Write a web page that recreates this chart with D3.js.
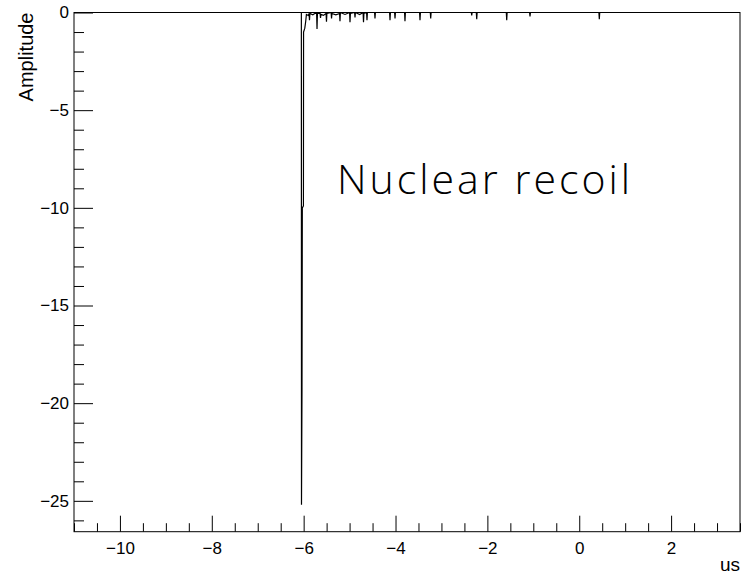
<!doctype html>
<html lang="en">
	<head>
		<meta charset="UTF-8" />
		<title>Nuclear recoil</title>
		<script src="https://d3js.org/d3.v7.min.js"></script>
		<style>
			body {
				margin: 0;
				background: #fff;
			}
			svg {
				display: block;
			}
			.axis text {
				font-family: 'Liberation Sans', Arial, sans-serif;
				font-size: 17px;
				fill: #000;
			}
			.axis line {
				stroke: #000;
			}
			.title {
				font-family: 'Liberation Sans', Arial, sans-serif;
				font-size: 19px;
			}
			.wave {
				fill: none;
				stroke: #000;
				stroke-width: 1.2px;
			}
		</style>
	</head>
	<body>
		<svg width="745" height="576"></svg>
		<script>
			// waveform samples (time in us, amplitude)
			const waveT = [
				-11.0, -6.05, -6.047, -6.036, -6.029, -6.005, -6.002, -5.975, -5.955, -5.94, -5.9,
				-5.882, -5.873, -5.864, -5.8, -5.76, -5.718, -5.709, -5.7, -5.642, -5.633, -5.624,
				-5.57, -5.512, -5.503, -5.494, -5.402, -5.393, -5.384, -5.3, -5.218, -5.209, -5.2,
				-5.1, -5.0, -4.991, -4.982, -4.891, -4.882, -4.873, -4.78, -4.706, -4.697, -4.688,
				-4.63, -4.621, -4.612, -4.456, -4.447, -4.438, -4.129, -4.12, -4.111, -4.02, -4.011,
				-4.002, -3.803, -3.794, -3.785, -3.476, -3.467, -3.458, -3.243, -3.234, -3.225,
				-2.35, -2.341, -2.332, -2.241, -2.232, -2.223, -1.588, -1.579, -1.57, -1.081,
				-1.072, -1.063, 0.428, 0.437, 0.446, 3.5
			]
			const waveA = [
				0, 0, -25.2, -19.2, -10.0, -9.9, -1.0, -0.8, -0.45, -0.1, -0.15,
				-0.05, -0.4, -0.05, -0.12, -0.05, -0.05, -0.85, -0.05, -0.05, -0.28, -0.1,
				-0.15, -0.05, -0.47, -0.05, 0, -0.3, -0.05, -0.12, -0.05, -0.45, 0,
				-0.1, 0, -0.5, -0.05, 0, -0.25, 0, -0.1, 0, -0.5, -0.05,
				0, -0.4, 0, 0, -0.3, 0, 0, -0.4, 0, 0, -0.3,
				0, 0, -0.45, 0, 0, -0.4, 0, 0, -0.3, 0,
				0, -0.15, 0, 0, -0.35, 0, 0, -0.4, 0, 0,
				-0.2, 0, 0, -0.35, 0, 0
			]

			const xDomain = [-11, 3.5]
			const yDomain = [-26.58, 0]
			const xMajor = [-10, -8, -6, -4, -2, 0, 2]
			const yMajor = [0, -5, -10, -15, -20, -25]
			const xTitle = 'us'
			const yTitle = 'Amplitude'
			const label = 'Nuclear recoil'

			const svg = d3.select('svg')
			const frame = { left: 74, right: 740, top: 12.5, bottom: 531.7 }

			const x = d3.scaleLinear().domain(xDomain).range([frame.left, frame.right])
			const y = d3.scaleLinear().domain(yDomain).range([frame.bottom, frame.top])
			const fmt = (d) => (d < 0 ? '\u2212' + Math.abs(d) : '' + d)

			svg.append('defs')
				.append('clipPath')
				.attr('id', 'frame')
				.append('rect')
				.attr('x', frame.left)
				.attr('y', frame.top)
				.attr('width', frame.right - frame.left)
				.attr('height', frame.bottom - frame.top)

			// minor ticks
			svg.append('g')
				.attr('class', 'axis')
				.attr('transform', `translate(0,${frame.bottom})`)
				.call(d3.axisBottom(x).tickValues(x.ticks(29).filter((d) => d % 2 !== 0)).tickSize(-8.5).tickFormat(''))
				.call((g) => g.select('.domain').remove())
			svg.append('g')
				.attr('class', 'axis')
				.attr('transform', `translate(${frame.left},0)`)
				.call(d3.axisLeft(y).tickValues(y.ticks(27).filter((d) => d % 5 !== 0)).tickSize(-10).tickFormat(''))
				.call((g) => g.select('.domain').remove())

			// major ticks + labels
			svg.append('g')
				.attr('class', 'axis')
				.attr('transform', `translate(0,${frame.bottom})`)
				.call(d3.axisBottom(x).tickValues(xMajor).tickSize(-16).tickPadding(10).tickFormat(fmt))
				.call((g) => g.select('.domain').remove())
			svg.append('g')
				.attr('class', 'axis')
				.attr('transform', `translate(${frame.left},0)`)
				.call(d3.axisLeft(y).tickValues(yMajor).tickSize(-19).tickPadding(5).tickFormat(fmt))
				.call((g) => g.select('.domain').remove())

			// waveform
			const line = d3
				.line()
				.x((d) => x(waveT[d]))
				.y((d) => y(waveA[d]))
			svg.append('path')
				.attr('class', 'wave')
				.attr('clip-path', 'url(#frame)')
				.attr('d', line(d3.range(waveT.length)))

			// frame
			svg.append('rect')
				.attr('x', frame.left)
				.attr('y', frame.top)
				.attr('width', frame.right - frame.left)
				.attr('height', frame.bottom - frame.top)
				.attr('fill', 'none')
				.attr('stroke', '#000')
				.attr('stroke-width', 1)

			svg.append('text')
				.attr('class', 'title')
				.attr('x', frame.right)
				.attr('y', 571)
				.attr('text-anchor', 'end')
				.text(xTitle)

			svg.append('text')
				.attr('class', 'title')
				.attr('transform', `translate(33,${frame.top}) rotate(-90)`)
				.attr('text-anchor', 'end')
				.style('font-size', '20px')
				.text(yTitle)

			svg.append('text')
				.attr('x', 337)
				.attr('y', 194)
				.attr('font-family', '"Open Sans", "Noto Sans", sans-serif')
				.attr('font-weight', 300)
				.attr('font-size', 41)
				.attr('textLength', 293)
				.attr('lengthAdjust', 'spacing')
				.text(label)
		</script>
	</body>
</html>
